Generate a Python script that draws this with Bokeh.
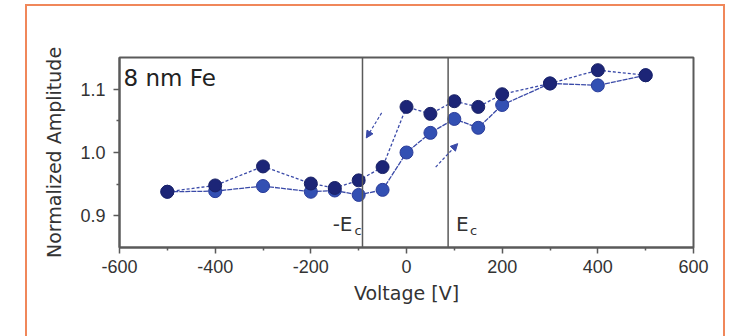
from bokeh.plotting import figure
from bokeh.models import (Range1d, Span, Label, Arrow, NormalHead, InlineStyleSheet,
                          FixedTicker, ColumnDataSource)
from bokeh.embed import file_html
from bokeh.resources import INLINE

# ---- data ----
voltage_down = [500, 400, 300, 200, 150, 100, 50, 0, -50, -100, -150, -200, -300, -400, -500]
amp_down = [1.122, 1.130, 1.109, 1.092, 1.072, 1.081, 1.061, 1.072, 0.977, 0.956, 0.944, 0.951, 0.978, 0.948, 0.938]

voltage_up = [-500, -400, -300, -200, -150, -100, -50, 0, 50, 100, 150, 200, 300, 400, 500]
amp_up = [0.938, 0.939, 0.947, 0.938, 0.940, 0.933, 0.941, 1.000, 1.031, 1.053, 1.039, 1.075, 1.109, 1.106, 1.122]

coercive_neg = -92
coercive_pos = 87

x_ticks = [-600, -400, -200, 0, 200, 400, 600]
y_ticks = [0.9, 1.0, 1.1]

# arrows showing sweep direction (start/end in data units)
arrow_down = (-52, 1.0625, -84, 1.023)
arrow_up = (61, 0.977, 107, 1.014)

LINE_C = "#3a4aa8"
DARK = "#1c2577"
LIGHT = "#3350b3"
AX_C = "#5a5a5a"
TXT_C = "#333333"

border_css = InlineStyleSheet(css="""
:host { position: relative; overflow: hidden; }
:host::after {
  content: ""; position: absolute; left: 25px; top: 4px; width: 696px; height: 400px;
  border: 2px solid #f0875a; pointer-events: none; z-index: 10;
}
""")

p = figure(width=732, height=336, output_backend="svg", toolbar_location=None,
           x_range=Range1d(-600, 600), y_range=Range1d(0.85, 1.15),
           min_border_left=119, min_border_right=39, min_border_top=57, min_border_bottom=89,
           stylesheets=[border_css])
p.background_fill_color = "white"
p.border_fill_color = "white"
p.grid.visible = False
p.outline_line_color = AX_C
p.outline_line_width = 2

for ax in (p.xaxis[0], p.yaxis[0]):
    ax.axis_line_color = AX_C
    ax.axis_line_width = 2
    ax.major_tick_line_color = AX_C
    ax.minor_tick_line_color = AX_C
    ax.major_tick_line_width = 1.5
    ax.minor_tick_line_width = 1.5
    ax.major_tick_in = 0
    ax.minor_tick_in = 0
    ax.major_tick_out = 6
    ax.minor_tick_out = 3
    ax.major_label_text_font = "Liberation Sans"
    ax.major_label_text_font_size = "18px"
    ax.major_label_text_color = TXT_C
    ax.axis_label_text_font = "DejaVu Sans"
    ax.axis_label_text_font_size = "19px"
    ax.axis_label_text_font_style = "normal"
    ax.axis_label_text_color = TXT_C

p.xaxis.ticker = FixedTicker(ticks=x_ticks, minor_ticks=[-500, -300, -100, 100, 300, 500])
p.yaxis.ticker = FixedTicker(ticks=y_ticks, minor_ticks=[0.95, 1.05])
p.xaxis.major_label_overrides = {t: str(t) for t in x_ticks}
p.yaxis.major_label_overrides = {t: f"{t:.1f}" for t in y_ticks}
p.xaxis.axis_label = "Voltage [V]"
p.yaxis.axis_label = "Normalized Amplitude"
p.xaxis.major_label_standoff = 6
p.yaxis.major_label_standoff = 8
p.xaxis.axis_label_standoff = 6
p.yaxis.axis_label_standoff = 12

# coercive field lines
for xv in (coercive_neg, coercive_pos):
    p.add_layout(Span(location=xv, dimension="height", line_color=AX_C, line_width=1.5))

src_down = ColumnDataSource(dict(x=voltage_down, y=amp_down))
src_up = ColumnDataSource(dict(x=voltage_up, y=amp_up))

p.line("x", "y", source=src_up, line_color=LINE_C, line_width=1.3, line_dash="5 1")
p.line("x", "y", source=src_down, line_color=LINE_C, line_width=1.3, line_dash="3 2")
p.scatter("x", "y", source=src_up, size=13, fill_color=LIGHT, line_color="#2a3c9a", line_width=1)
p.scatter("x", "y", source=src_down, size=13, fill_color=DARK, line_color="#1a2266", line_width=1)

for (x0, y0, x1, y1) in (arrow_down, arrow_up):
    p.add_layout(Arrow(end=NormalHead(size=7, fill_color=LINE_C, line_color=LINE_C),
                       x_start=x0, y_start=y0, x_end=x1, y_end=y1,
                       line_color=LINE_C, line_width=1.2, line_dash="3 2"))

p.add_layout(Label(x=-600, y=1.117, x_offset=4, text="8 nm Fe", text_font="DejaVu Sans",
                   text_font_size="23px", text_color="#222222", text_baseline="middle"))

for xv, lab, off in ((coercive_neg, "-E", -10), (coercive_pos, "E", 8)):
    align = "right" if off < 0 else "left"
    p.add_layout(Label(x=xv, y=0.8875, x_offset=off, text=lab, text_font="DejaVu Sans",
                       text_font_size="20px", text_color=TXT_C, text_baseline="middle",
                       text_align=align))
    cx = off + (2 if off < 0 else 14)
    p.add_layout(Label(x=xv, y=0.8875, x_offset=cx, y_offset=-7, text="c", text_font="DejaVu Sans",
                       text_font_size="13px", text_color=TXT_C, text_baseline="middle",
                       text_align="left"))

open("out.html", "w").write(file_html(p, INLINE))
